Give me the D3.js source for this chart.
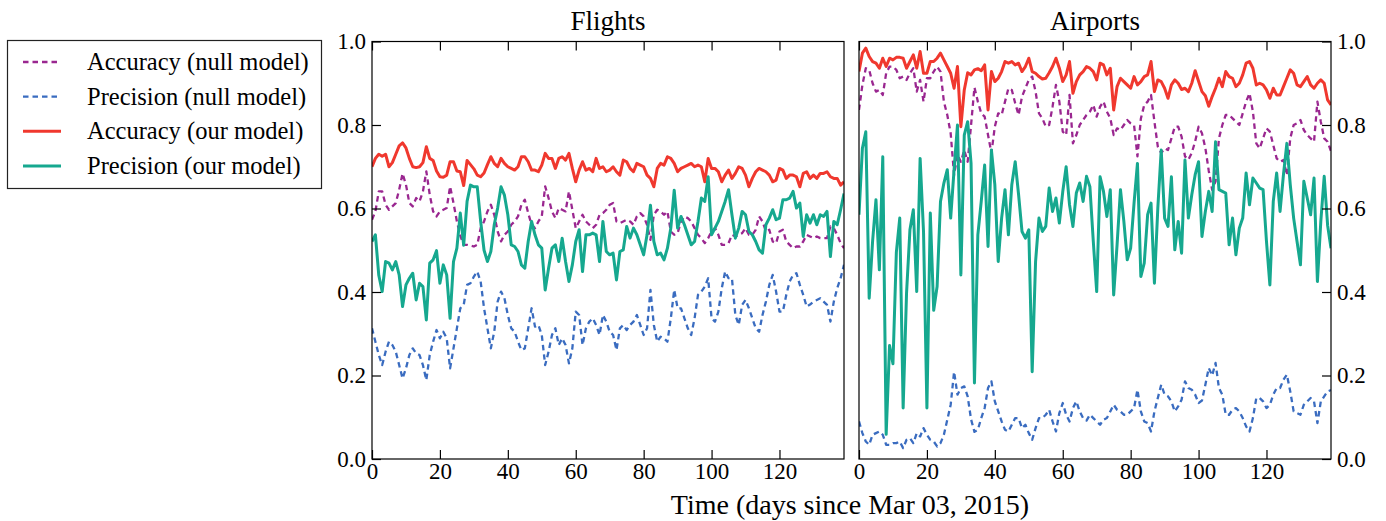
<!DOCTYPE html>
<html><head><meta charset="utf-8">
<script src="https://cdn.jsdelivr.net/npm/d3@7"></script>
<style>
html,body{margin:0;padding:0;background:#fff;}
svg{display:block;font-family:"Liberation Serif","Times New Roman",serif;}
</style></head><body>
<svg id="chart" width="1386" height="521"></svg>
<script>
// ---- data -------------------------------------------------------------
const panelTitles = ["Flights", "Airports"];
const seriesNames = ["Accuracy (null model)", "Precision (null model)", "Accuracy (our model)", "Precision (our model)"];
const xTicks = [0, 20, 40, 60, 80, 100, 120];
const yTicks = [0.0, 0.2, 0.4, 0.6, 0.8, 1.0];
const xLabel = "Time (days since Mar 03, 2015)";

// Flights panel, one value per day (day 0 .. 139)
const flightsAccNull = [
0.573,0.593,0.641,0.641,0.609,0.597,0.605,0.613,0.645,0.684,0.657,0.613,0.605,0.625,0.617,0.641,0.689,0.633,0.593,0.581,
0.593,0.597,0.601,0.653,0.613,0.569,0.535,0.513,0.513,0.511,0.509,0.513,0.553,0.569,0.593,0.609,0.585,0.545,0.521,0.537,
0.545,0.561,0.569,0.581,0.609,0.621,0.589,0.561,0.553,0.569,0.581,0.653,0.625,0.593,0.577,0.601,0.597,0.593,0.641,0.597,
0.553,0.569,0.585,0.569,0.561,0.553,0.561,0.585,0.589,0.597,0.609,0.613,0.569,0.565,0.569,0.573,0.569,0.561,0.581,0.589,
0.581,0.561,0.525,0.585,0.597,0.593,0.585,0.593,0.545,0.537,0.541,0.569,0.581,0.577,0.569,0.553,0.537,0.529,0.517,0.529,
0.545,0.553,0.537,0.513,0.513,0.517,0.537,0.533,0.537,0.541,0.553,0.537,0.537,0.549,0.581,0.569,0.545,0.549,0.521,0.517,
0.545,0.549,0.521,0.513,0.505,0.509,0.509,0.521,0.537,0.533,0.529,0.533,0.529,0.529,0.529,0.557,0.553,0.537,0.517,0.505];
const flightsPrecNull = [
0.313,0.281,0.249,0.225,0.257,0.281,0.273,0.257,0.225,0.193,0.217,0.249,0.265,0.253,0.249,0.225,0.189,0.249,0.281,0.309,
0.289,0.305,0.289,0.217,0.265,0.313,0.361,0.369,0.417,0.421,0.437,0.449,0.425,0.361,0.313,0.265,0.305,0.377,0.401,0.385,
0.345,0.313,0.305,0.281,0.261,0.265,0.313,0.361,0.317,0.321,0.297,0.225,0.257,0.297,0.313,0.273,0.289,0.273,0.229,0.265,
0.353,0.345,0.273,0.313,0.329,0.337,0.321,0.297,0.345,0.329,0.305,0.297,0.261,0.313,0.321,0.309,0.321,0.329,0.345,0.321,
0.297,0.313,0.405,0.321,0.281,0.293,0.289,0.281,0.337,0.405,0.361,0.361,0.337,0.313,0.297,0.337,0.393,0.401,0.413,0.433,
0.337,0.329,0.353,0.409,0.449,0.433,0.433,0.345,0.321,0.369,0.381,0.361,0.337,0.313,0.305,0.345,0.377,0.417,0.441,0.401,
0.353,0.353,0.393,0.425,0.441,0.445,0.417,0.393,0.365,0.370,0.377,0.381,0.385,0.377,0.369,0.329,0.377,0.409,0.433,0.465];
const flightsAcc = [
0.700,0.720,0.730,0.725,0.730,0.700,0.710,0.730,0.750,0.757,0.745,0.720,0.700,0.698,0.700,0.710,0.748,0.720,0.715,0.690,
0.676,0.675,0.680,0.712,0.712,0.690,0.688,0.655,0.715,0.705,0.695,0.680,0.676,0.685,0.705,0.724,0.708,0.700,0.720,0.708,
0.700,0.696,0.692,0.700,0.724,0.724,0.712,0.692,0.692,0.688,0.704,0.732,0.720,0.720,0.696,0.720,0.724,0.716,0.732,0.696,
0.664,0.692,0.712,0.692,0.696,0.688,0.720,0.696,0.700,0.688,0.692,0.700,0.688,0.680,0.716,0.712,0.696,0.688,0.708,0.704,
0.700,0.680,0.672,0.652,0.696,0.708,0.704,0.724,0.720,0.708,0.688,0.696,0.700,0.704,0.708,0.700,0.704,0.700,0.664,0.720,
0.696,0.696,0.688,0.664,0.680,0.692,0.672,0.684,0.700,0.696,0.680,0.652,0.672,0.688,0.696,0.692,0.688,0.680,0.664,0.668,
0.696,0.692,0.672,0.680,0.680,0.676,0.652,0.684,0.688,0.672,0.680,0.672,0.684,0.684,0.688,0.676,0.672,0.672,0.656,0.664];
const flightsPrec = [
0.521,0.537,0.440,0.401,0.473,0.469,0.453,0.473,0.441,0.365,0.417,0.433,0.445,0.381,0.421,0.413,0.333,0.469,0.477,0.499,
0.421,0.465,0.441,0.337,0.473,0.505,0.589,0.512,0.617,0.656,0.652,0.652,0.569,0.500,0.473,0.497,0.561,0.601,0.652,0.632,
0.585,0.513,0.509,0.497,0.465,0.457,0.521,0.569,0.537,0.513,0.505,0.405,0.457,0.505,0.513,0.473,0.529,0.473,0.425,0.465,
0.521,0.549,0.449,0.537,0.537,0.541,0.537,0.473,0.569,0.497,0.489,0.493,0.429,0.497,0.501,0.557,0.529,0.553,0.537,0.513,
0.489,0.537,0.608,0.521,0.489,0.493,0.477,0.505,0.553,0.644,0.553,0.581,0.561,0.537,0.513,0.521,0.569,0.625,0.617,0.676,
0.537,0.553,0.569,0.593,0.617,0.645,0.585,0.529,0.553,0.593,0.585,0.545,0.537,0.521,0.501,0.493,0.561,0.577,0.597,0.573,
0.577,0.621,0.621,0.625,0.641,0.601,0.613,0.533,0.585,0.565,0.585,0.561,0.585,0.581,0.593,0.485,0.569,0.561,0.597,0.636];

// Airports panel, one value per day (day 0 .. 139)
const airportsAccNull = [
0.836,0.896,0.936,0.932,0.900,0.880,0.884,0.872,0.924,0.940,0.940,0.932,0.912,0.916,0.908,0.924,0.936,0.880,0.908,0.856,
0.912,0.912,0.928,0.940,0.928,0.856,0.824,0.780,0.680,0.729,0.712,0.740,0.712,0.800,0.890,0.856,0.828,0.820,0.776,0.733,
0.796,0.828,0.824,0.856,0.888,0.884,0.852,0.824,0.868,0.888,0.908,0.916,0.880,0.828,0.816,0.796,0.800,0.844,0.896,0.856,
0.784,0.776,0.872,0.756,0.776,0.800,0.812,0.824,0.832,0.848,0.820,0.844,0.856,0.832,0.816,0.776,0.792,0.788,0.800,0.812,
0.804,0.800,0.725,0.815,0.848,0.856,0.872,0.808,0.748,0.733,0.744,0.740,0.768,0.796,0.796,0.772,0.725,0.717,0.733,0.761,
0.796,0.780,0.745,0.690,0.645,0.665,0.768,0.800,0.824,0.824,0.816,0.808,0.800,0.828,0.856,0.876,0.832,0.756,0.744,0.768,
0.792,0.784,0.752,0.720,0.712,0.716,0.680,0.768,0.800,0.804,0.812,0.788,0.776,0.768,0.760,0.856,0.808,0.768,0.760,0.737];
const airportsPrecNull = [
0.090,0.062,0.042,0.034,0.058,0.062,0.066,0.058,0.034,0.034,0.038,0.038,0.042,0.026,0.046,0.050,0.038,0.062,0.054,0.074,
0.058,0.046,0.042,0.030,0.038,0.058,0.094,0.130,0.209,0.154,0.170,0.174,0.150,0.095,0.065,0.070,0.098,0.122,0.170,0.186,
0.138,0.114,0.090,0.070,0.066,0.082,0.098,0.098,0.074,0.082,0.062,0.046,0.074,0.098,0.098,0.106,0.118,0.090,0.066,0.110,
0.134,0.106,0.090,0.122,0.138,0.114,0.098,0.092,0.106,0.098,0.090,0.082,0.094,0.098,0.114,0.130,0.118,0.114,0.106,0.106,
0.114,0.122,0.166,0.114,0.090,0.086,0.066,0.114,0.146,0.178,0.154,0.150,0.138,0.114,0.126,0.142,0.186,0.170,0.166,0.154,
0.134,0.140,0.178,0.218,0.200,0.230,0.170,0.154,0.106,0.106,0.118,0.122,0.114,0.098,0.078,0.066,0.098,0.146,0.146,0.138,
0.122,0.130,0.154,0.170,0.170,0.190,0.202,0.162,0.114,0.110,0.106,0.130,0.138,0.146,0.138,0.086,0.138,0.150,0.162,0.165];
const airportsAcc = [
0.928,0.972,0.984,0.964,0.952,0.948,0.936,0.960,0.940,0.960,0.956,0.962,0.962,0.960,0.936,0.952,0.968,0.936,0.976,0.924,
0.924,0.952,0.952,0.960,0.972,0.956,0.940,0.924,0.888,0.940,0.796,0.884,0.925,0.920,0.932,0.935,0.930,0.944,0.836,0.928,
0.904,0.912,0.928,0.952,0.948,0.952,0.944,0.948,0.928,0.940,0.960,0.928,0.924,0.916,0.910,0.912,0.925,0.940,0.960,0.936,
0.904,0.920,0.952,0.876,0.904,0.920,0.928,0.940,0.936,0.928,0.908,0.948,0.944,0.920,0.936,0.836,0.892,0.912,0.904,0.896,
0.888,0.916,0.896,0.904,0.916,0.920,0.952,0.880,0.908,0.904,0.888,0.864,0.896,0.908,0.900,0.885,0.888,0.880,0.900,0.930,
0.905,0.880,0.870,0.845,0.868,0.888,0.912,0.892,0.928,0.916,0.912,0.892,0.900,0.920,0.948,0.952,0.936,0.896,0.900,0.896,
0.884,0.864,0.888,0.872,0.872,0.892,0.912,0.932,0.924,0.896,0.892,0.904,0.916,0.896,0.888,0.900,0.908,0.900,0.860,0.848];
const airportsPrec = [
0.585,0.744,0.784,0.385,0.521,0.621,0.453,0.724,0.059,0.272,0.228,0.495,0.577,0.122,0.397,0.549,0.597,0.401,0.720,0.545,
0.122,0.589,0.356,0.413,0.617,0.661,0.693,0.577,0.693,0.800,0.441,0.776,0.808,0.708,0.182,0.537,0.617,0.704,0.509,0.740,
0.657,0.473,0.577,0.645,0.537,0.657,0.712,0.633,0.545,0.529,0.549,0.209,0.473,0.577,0.545,0.557,0.649,0.593,0.625,0.565,
0.640,0.700,0.609,0.557,0.637,0.661,0.617,0.677,0.652,0.521,0.401,0.676,0.641,0.581,0.645,0.393,0.513,0.645,0.569,0.477,
0.505,0.613,0.708,0.437,0.469,0.585,0.613,0.421,0.601,0.740,0.577,0.557,0.676,0.501,0.569,0.493,0.716,0.577,0.633,0.681,
0.712,0.533,0.593,0.641,0.593,0.760,0.645,0.641,0.637,0.513,0.577,0.489,0.553,0.577,0.685,0.609,0.673,0.661,0.649,0.645,
0.521,0.417,0.617,0.685,0.593,0.681,0.756,0.657,0.577,0.521,0.465,0.665,0.625,0.585,0.673,0.425,0.569,0.677,0.560,0.505];

// ---- styling ----------------------------------------------------------
const colors = ["#9a2790", "#3a6cc0", "#f0382e", "#16a88f"];
const dashes = ["5.5,4", "5.5,4", null, null];
const widths = [2.3, 2.3, 3, 3];

const panels = [
  { title: panelTitles[0], left: 372, side: "left",
    series: [flightsAccNull, flightsPrecNull, flightsAcc, flightsPrec] },
  { title: panelTitles[1], left: 859, side: "right",
    series: [airportsAccNull, airportsPrecNull, airportsAcc, airportsPrec] }
];
const plotW = 472, plotTop = 41.5, plotH = 417.5;
const tickLen = 9;
const serif = '"Liberation Serif","Times New Roman",serif';

const svg = d3.select("#chart");
const y = d3.scaleLinear().domain([0, 1]).range([plotTop + plotH, plotTop]);

panels.forEach((p, pi) => {
  const x = d3.scaleLinear().domain([0, 139]).range([p.left, p.left + plotW]);
  const g = svg.append("g");

  g.append("clipPath").attr("id", "clip" + pi)
    .append("rect").attr("x", p.left).attr("y", plotTop).attr("width", plotW).attr("height", plotH);

  const line = d3.line().x((d, i) => x(i)).y(d => y(d));
  const lines = g.append("g").attr("clip-path", `url(#clip${pi})`);
  p.series.forEach((vals, si) => {
    lines.append("path")
      .datum(vals)
      .attr("d", line)
      .attr("fill", "none")
      .attr("stroke", colors[si])
      .attr("stroke-width", widths[si])
      .attr("stroke-linejoin", "round")
      .attr("stroke-dasharray", dashes[si]);
  });

  // frame
  g.append("rect").attr("x", p.left).attr("y", plotTop).attr("width", plotW).attr("height", plotH)
    .attr("fill", "none").attr("stroke", "#000").attr("stroke-width", 1.2);

  // x axis: inward ticks on bottom and top, labels below
  const xb = d3.axisBottom(x).tickValues(xTicks).tickSize(-tickLen).tickPadding(4).tickFormat(d3.format("d"));
  const xa = g.append("g").attr("transform", `translate(0,${plotTop + plotH})`).call(xb);
  const xt = d3.axisTop(x).tickValues(xTicks).tickSize(-tickLen).tickFormat("");
  const xta = g.append("g").attr("transform", `translate(0,${plotTop})`).call(xt);

  // y axis on the outer side, inward ticks
  let ya;
  if (p.side === "left") {
    const ax = d3.axisLeft(y).tickValues(yTicks).tickSize(-tickLen).tickPadding(6).tickFormat(d3.format(".1f"));
    ya = g.append("g").attr("transform", `translate(${p.left},0)`).call(ax);
  } else {
    const ax = d3.axisRight(y).tickValues(yTicks).tickSize(-tickLen).tickPadding(6).tickFormat(d3.format(".1f"));
    ya = g.append("g").attr("transform", `translate(${p.left + plotW},0)`).call(ax);
  }
  [xa, xta, ya].forEach(a => {
    a.select(".domain").remove();
    a.selectAll(".tick line").attr("stroke", "#000").attr("stroke-width", 1.2);
    a.selectAll(".tick text").attr("fill", "#000")
      .style("font-family", serif).style("font-size", "23px");
  });

  // panel title
  g.append("text").attr("x", p.left + plotW / 2).attr("y", 30)
    .attr("text-anchor", "middle").style("font-size", "27px").text(p.title);
});

// shared x label
svg.append("text").attr("x", 850).attr("y", 514).attr("text-anchor", "middle")
  .style("font-size", "28px").text(xLabel);

// legend
const lg = svg.append("g");
lg.append("rect").attr("x", 7.5).attr("y", 40.5).attr("width", 314).attr("height", 148)
  .attr("fill", "#fff").attr("stroke", "#222").attr("stroke-width", 1.2);
const rowY = d3.scalePoint().domain(seriesNames).range([62, 166]);
seriesNames.forEach((name, si) => {
  const yy = rowY(name);
  lg.append("line").attr("x1", 23).attr("x2", 61).attr("y1", yy).attr("y2", yy)
    .attr("stroke", colors[si]).attr("stroke-width", widths[si]).attr("stroke-dasharray", dashes[si]);
  lg.append("text").attr("x", 87).attr("y", yy).attr("dy", "0.33em")
    .style("font-size", "24.5px").text(name);
});
</script>
</body></html>
